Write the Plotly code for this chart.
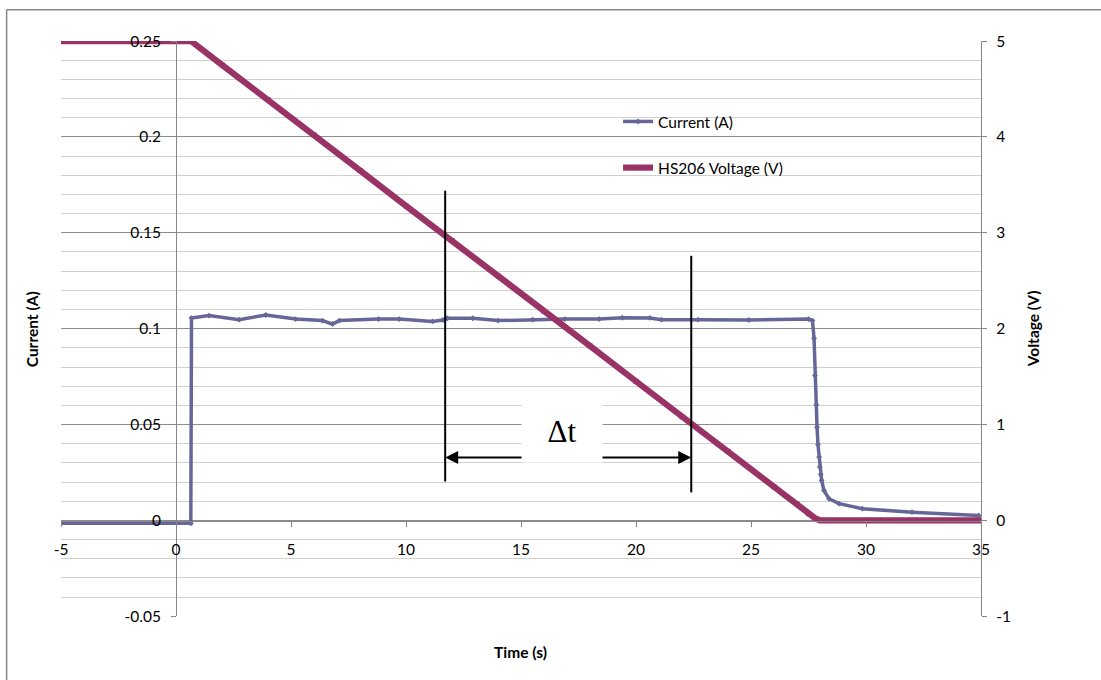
import plotly.graph_objects as go

# ---------------- data ----------------
current_t = [-5, 0.64, 0.67, 1.43, 2.74, 3.9, 5.2, 6.36, 6.8, 7.1, 8.8, 9.7, 11.15, 11.6,
             11.8, 12.9, 14.0, 15.5, 16.9, 18.4, 19.4, 20.6, 21.1, 22.7, 24.9, 27.5,
             27.67, 27.74, 27.78, 27.84, 27.87, 27.91, 27.96, 27.99, 28.03, 28.07,
             28.17, 28.39, 28.83, 29.84, 32.0, 34.9]
current_a = [-0.0015, -0.0015, 0.1055, 0.1068, 0.1047, 0.1071, 0.1050, 0.1042, 0.1024, 0.1042,
             0.1050, 0.1050, 0.1038, 0.1045, 0.1054, 0.1054, 0.1042, 0.1047, 0.1050, 0.1050,
             0.1057, 0.1056, 0.1047, 0.1047, 0.1045, 0.1050, 0.1042, 0.0950, 0.0755, 0.0603,
             0.0486, 0.0396, 0.0330, 0.0278, 0.0240, 0.0208, 0.0156, 0.0113, 0.0087, 0.0061,
             0.0043, 0.0026]

voltage_t = [-5, 0.65, 2, 4, 6, 8, 10, 12, 14, 16, 18, 20, 22, 24, 26, 27, 27.5, 27.8,
             28.0, 30, 32, 35]
voltage_v = [5.0, 5.0, 4.75, 4.39, 4.02, 3.65, 3.28, 2.92, 2.55, 2.18, 1.82, 1.45, 1.08,
             0.72, 0.35, 0.17, 0.07, 0.02, 0.0, 0.0, 0.0, 0.0]

x_ticks = [-5, 0, 5, 10, 15, 20, 25, 30, 35]
x_ticktext = ["-5", "0", "5", "10", "15", "20", "25", "30", "35"]
left_ticks = [-0.05, 0, 0.05, 0.1, 0.15, 0.2, 0.25]
left_ticktext = ["-0.05", "0", "0.05", "0.1", "0.15", "0.2", "0.25"]
right_ticks = [-1, 0, 1, 2, 3, 4, 5]
right_ticktext = ["-1", "0", "1", "2", "3", "4", "5"]

# Δt markers (time positions and vertical extents, left-axis units)
dt_left_t, dt_right_t = 11.7, 22.4
dt_left_span = (0.0203, 0.1719)
dt_right_span = (0.0146, 0.138)
dt_arrow_y = 0.0328
dt_label_t, dt_label_y = 16.76, 0.0464

# ---------------- figure ----------------
# The photographed page carries an 8px body margin and is scaled to the window,
# so reference-pixel positions are converted back to figure pixels.
SX, SY = 1101 / 1117, 680 / 696
OFF = 8
W, H = 1110, 689
FONT = "Lato"
FS = 15.5
CUR_COL = "#666699"
VOL_COL = "#993366"
AX_COL = "#868686"


def px(X):
    return (X / SX - OFF) / W


def py(Y):
    return 1 - (Y / SY - OFF) / H


fig = go.Figure()
fig.add_trace(go.Scatter(
    x=current_t, y=current_a, name="Current (A)", mode="lines+markers",
    line=dict(color=CUR_COL, width=3.5),
    marker=dict(symbol="diamond", size=4.5, color=CUR_COL),
    yaxis="y", legendgroup="a"))
fig.add_trace(go.Scatter(
    x=voltage_t, y=voltage_v, name="HS206 Voltage (V)", mode="lines+markers",
    line=dict(color=VOL_COL, width=6.2),
    marker=dict(symbol="square", size=5, color=VOL_COL),
    yaxis="y2", legendgroup="b"))

fig.update_layout(
    width=W, height=H,
    margin=dict(l=0, r=0, t=0, b=0),
    paper_bgcolor="white", plot_bgcolor="white",
    font=dict(family=FONT, size=FS, color="black"),
    xaxis=dict(
        domain=[px(62), px(982)], range=[-5, 35],
        tickvals=x_ticks, ticktext=x_ticktext,
        anchor="free", position=py(520),
        showline=True, linecolor=AX_COL, linewidth=1,
        ticks="outside", ticklen=5, tickcolor=AX_COL,
        showgrid=False, zeroline=False, ticklabelstandoff=10,
        tickfont=dict(size=FS, family=FONT),
    ),
    yaxis=dict(
        domain=[py(616), py(39)], range=[-0.05, 0.25],
        tickvals=left_ticks, ticktext=left_ticktext,
        anchor="free", position=px(177),
        showline=True, linecolor=AX_COL, linewidth=1,
        ticks="outside", ticklen=5, tickcolor=AX_COL,
        showgrid=True, gridcolor="#8c8c8c", gridwidth=1,
        minor=dict(dtick=0.01, showgrid=True, gridcolor="#d0d0d0", gridwidth=1),
        zeroline=False, ticklabelstandoff=7,
        tickfont=dict(size=FS, family=FONT),
    ),
    yaxis2=dict(
        overlaying="y", side="right", anchor="x", range=[-1, 5],
        tickvals=right_ticks, ticktext=right_ticktext,
        showline=True, linecolor=AX_COL, linewidth=1,
        ticks="outside", ticklen=5, tickcolor=AX_COL,
        showgrid=False, zeroline=False, ticklabelstandoff=6,
        tickfont=dict(size=FS, family=FONT),
    ),
    legend=dict(
        x=px(619), y=py(103), xanchor="left", yanchor="top",
        bgcolor="rgba(0,0,0,0)", borderwidth=0,
        font=dict(size=FS, family=FONT),
        traceorder="grouped", tracegroupgap=23, itemwidth=30,
    ),
    showlegend=True,
)

shapes = [
    # white legend background
    dict(type="rect", xref="paper", yref="paper", x0=px(608), x1=px(806),
         y0=py(191), y1=py(100), fillcolor="white", line=dict(width=0), layer="between"),
    # outer frame (left and top edges)
    dict(type="line", xref="paper", yref="paper", x0=px(7.5), x1=px(7.5),
         y0=0, y1=py(7.5), line=dict(color=AX_COL, width=1.5)),
    dict(type="line", xref="paper", yref="paper", x0=px(7.5), x1=1,
         y0=py(7.5), y1=py(7.5), line=dict(color=AX_COL, width=1.5)),
    # Δt vertical lines
    dict(type="line", xref="x", yref="y", x0=dt_left_t, x1=dt_left_t,
         y0=dt_left_span[0], y1=dt_left_span[1], line=dict(color="black", width=2)),
    dict(type="line", xref="x", yref="y", x0=dt_right_t, x1=dt_right_t,
         y0=dt_right_span[0], y1=dt_right_span[1], line=dict(color="black", width=2)),
]
fig.update_layout(shapes=shapes)

annotations = [
    dict(x=dt_left_t, y=dt_arrow_y, ax=dt_label_t, ay=dt_arrow_y, xref="x", yref="y",
         axref="x", ayref="y", text="", showarrow=True, arrowhead=2, arrowsize=1.3,
         arrowwidth=2, arrowcolor="black"),
    dict(x=dt_right_t, y=dt_arrow_y, ax=dt_label_t, ay=dt_arrow_y, xref="x", yref="y",
         axref="x", ayref="y", text="", showarrow=True, arrowhead=2, arrowsize=1.3,
         arrowwidth=2, arrowcolor="black"),
    dict(x=dt_label_t, y=dt_label_y, xref="x", yref="y", text="Δt", showarrow=False,
         xanchor="center", yanchor="middle",
         font=dict(family="Liberation Serif", size=31, color="black"),
         bgcolor="white", width=78, height=60),
    dict(x=px(33), y=py(328), xref="paper", yref="paper", text="<b>Current (A)</b>",
         textangle=-90, showarrow=False, xanchor="center", yanchor="middle",
         font=dict(size=FS, family=FONT)),
    dict(x=px(1034), y=py(328), xref="paper", yref="paper", text="<b>Voltage (V)</b>",
         textangle=-90, showarrow=False, xanchor="center", yanchor="middle",
         font=dict(size=FS, family=FONT)),
    dict(x=px(521), y=py(652), xref="paper", yref="paper", text="<b>Time (s)</b>",
         showarrow=False, xanchor="center", yanchor="middle",
         font=dict(size=FS, family=FONT)),
]
fig.update_layout(annotations=annotations)

fig.write_html("out.html")
